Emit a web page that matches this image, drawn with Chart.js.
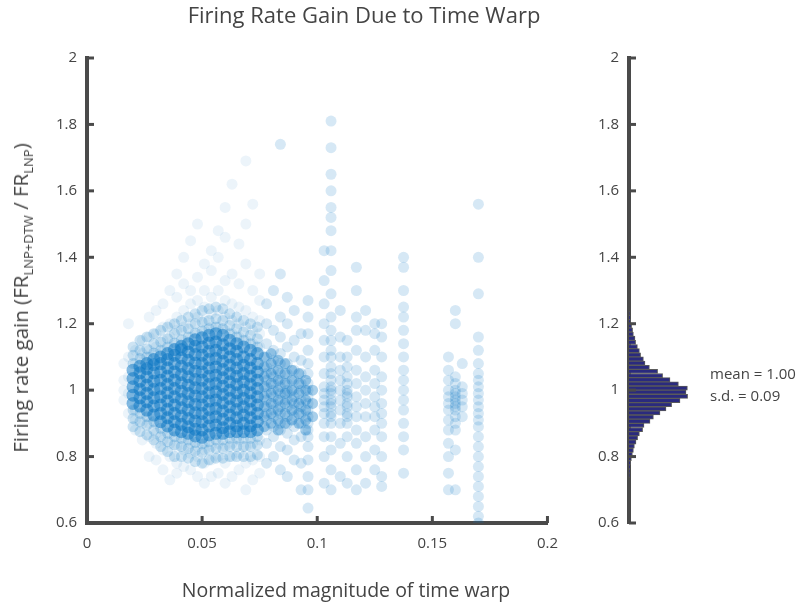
<!DOCTYPE html>
<html>
<head>
<meta charset="utf-8">
<script src="https://cdn.jsdelivr.net/npm/chart.js@4.4.1/dist/chart.umd.min.js"></script>
<style>
  body { margin: 0; background: #fff; font-family: 'Open Sans', sans-serif; color: #444; }
  #wrap { position: relative; width: 801px; height: 604px; overflow: hidden; }
  canvas { position: absolute; top: 0; }
  #scatter { left: 0; }
  #hist { left: 570px; }
  .lbl { position: absolute; white-space: nowrap; line-height: 22px; }
  #title { left: 0; width: 728px; top: 3px; text-align: center; font-size: 22px; }
  #xlabel { left: 0; width: 692px; top: 579px; text-align: center; font-size: 19.5px; }
  #ylabel { left: 20px; top: 298px; font-size: 20.5px; transform: translate(-50%, -50%) rotate(-90deg); }
  #ylabel sub { font-size: 13px; line-height: 0; }
  #stats { left: 710px; top: 362px; font-size: 15px; line-height: 22px; }
</style>
</head>
<body>
<div id="wrap">
  <canvas id="scatter" width="570" height="604"></canvas>
  <canvas id="hist" width="231" height="604"></canvas>
  <div class="lbl" id="title">Firing Rate Gain Due to Time Warp</div>
  <div class="lbl" id="xlabel">Normalized magnitude of time warp</div>
  <div class="lbl" id="ylabel">Firing rate gain (FR<sub>LNP+DTW</sub> / FR<sub>LNP</sub>)</div>
  <div class="lbl" id="stats">mean = 1.00<br>s.d. = 0.09</div>
</div>
<script>
'use strict';

// tick labels
let warpTicks = [0, 0.05, 0.1, 0.15, 0.2];
let gainTicks = [0.6, 0.8, 1, 1.2, 1.4, 1.6, 1.8, 2];

// dense cloud of neurons with small warps (one column of gains per warp value)
let coreWarp = [0.020, 0.023, 0.026, 0.029, 0.032, 0.035, 0.038, 0.041, 0.044, 0.047,
  0.050, 0.053, 0.056, 0.059, 0.062, 0.065, 0.068, 0.071, 0.074];
let coreGain = [
  [0.96, 0.985, 1.01, 1.035, 1.06],
  [0.952, 0.977, 1.002, 1.027, 1.052, 1.072],
  [0.94, 0.965, 0.99, 1.015, 1.04, 1.065, 1.08],
  [0.925, 0.952, 0.977, 1.002, 1.027, 1.052, 1.077, 1.092],
  [0.905, 0.93, 0.955, 0.98, 1.005, 1.03, 1.055, 1.08, 1.10],
  [0.892, 0.917, 0.942, 0.967, 0.992, 1.017, 1.042, 1.067, 1.092, 1.11],
  [0.88, 0.905, 0.93, 0.955, 0.98, 1.005, 1.03, 1.055, 1.08, 1.105, 1.122],
  [0.875, 0.897, 0.922, 0.947, 0.972, 0.997, 1.022, 1.047, 1.072, 1.097, 1.122, 1.132],
  [0.87, 0.89, 0.915, 0.94, 0.965, 0.99, 1.015, 1.04, 1.065, 1.09, 1.115, 1.14],
  [0.862, 0.882, 0.907, 0.932, 0.957, 0.982, 1.007, 1.032, 1.057, 1.082, 1.107, 1.132, 1.152],
  [0.858, 0.88, 0.905, 0.93, 0.955, 0.98, 1.005, 1.03, 1.055, 1.08, 1.105, 1.13, 1.158],
  [0.865, 0.892, 0.917, 0.942, 0.967, 0.992, 1.017, 1.042, 1.067, 1.092, 1.117, 1.142, 1.165],
  [0.87, 0.895, 0.92, 0.945, 0.97, 0.995, 1.02, 1.045, 1.07, 1.095, 1.12, 1.145, 1.17],
  [0.87, 0.887, 0.912, 0.937, 0.962, 0.987, 1.012, 1.037, 1.062, 1.087, 1.112, 1.137, 1.165],
  [0.875, 0.9, 0.925, 0.95, 0.975, 1.0, 1.025, 1.05, 1.075, 1.1, 1.125, 1.15],
  [0.875, 0.892, 0.917, 0.942, 0.967, 0.992, 1.017, 1.042, 1.067, 1.092, 1.117, 1.14],
  [0.875, 0.9, 0.925, 0.95, 0.975, 1.0, 1.025, 1.05, 1.075, 1.1, 1.13],
  [0.875, 0.892, 0.917, 0.942, 0.967, 0.992, 1.017, 1.042, 1.067, 1.092, 1.12],
  [0.88, 0.905, 0.93, 0.955, 0.98, 1.005, 1.03, 1.055, 1.08, 1.11]
];

// thinner band of neurons just outside the cloud (same warp columns)
let fringeGain = [
  [0.94, 0.915, 0.89, 1.08, 1.105, 1.13],
  [0.93, 0.905, 0.875, 1.095, 1.12, 1.15],
  [0.92, 0.895, 0.865, 1.10, 1.125, 1.16],
  [0.905, 0.88, 0.85, 1.112, 1.14, 1.17],
  [0.885, 0.86, 0.83, 1.12, 1.145, 1.18],
  [0.87, 0.845, 0.815, 1.13, 1.155, 1.19],
  [0.86, 0.835, 0.8, 1.142, 1.17, 1.2],
  [0.855, 0.83, 0.8, 1.152, 1.18, 1.21],
  [0.85, 0.825, 0.795, 1.16, 1.185, 1.22],
  [0.842, 0.817, 0.785, 1.172, 1.2, 1.23],
  [0.838, 0.812, 0.78, 1.178, 1.205, 1.24],
  [0.845, 0.82, 0.79, 1.185, 1.21, 1.245],
  [0.85, 0.825, 0.795, 1.19, 1.215, 1.25],
  [0.85, 0.825, 0.795, 1.185, 1.21, 1.245],
  [0.855, 0.83, 0.8, 1.17, 1.195, 1.23],
  [0.855, 0.83, 0.8, 1.16, 1.185, 1.22],
  [0.855, 0.83, 0.8, 1.15, 1.175, 1.21],
  [0.855, 0.83, 0.8, 1.14, 1.165, 1.2],
  [0.86, 0.835, 0.805, 1.13, 1.155, 1.19]
];

// sparse outliers around the cloud
let haloWarp = [0.016, 0.018, 0.021, 0.024, 0.027, 0.030, 0.033, 0.036, 0.039, 0.042,
  0.045, 0.048, 0.051, 0.054, 0.057, 0.060, 0.063, 0.066, 0.069, 0.072, 0.075];
let haloGain = [
  [0.97, 1.0, 1.03, 1.08],
  [0.93, 0.99, 1.04, 1.1, 1.2],
  [0.88, 0.91, 0.94, 1.08, 1.12],
  [0.85, 0.9, 0.93, 1.09, 1.11, 1.15],
  [0.8, 0.86, 0.9, 0.92, 1.1, 1.12, 1.16, 1.22],
  [0.79, 0.84, 0.87, 0.9, 1.11, 1.13, 1.17, 1.24],
  [0.76, 0.82, 0.85, 0.88, 1.12, 1.15, 1.19, 1.26],
  [0.73, 0.8, 0.84, 0.87, 1.13, 1.16, 1.2, 1.3],
  [0.75, 0.78, 0.83, 0.86, 1.14, 1.18, 1.22, 1.28, 1.35],
  [0.77, 0.82, 0.85, 1.15, 1.19, 1.24, 1.32, 1.4],
  [0.76, 0.81, 0.84, 1.16, 1.2, 1.26, 1.3, 1.45],
  [0.74, 0.8, 0.83, 1.17, 1.22, 1.27, 1.34, 1.5],
  [0.72, 0.78, 0.82, 0.84, 1.18, 1.21, 1.25, 1.3, 1.38],
  [0.74, 0.79, 0.83, 1.19, 1.23, 1.28, 1.36, 1.42],
  [0.75, 0.8, 0.84, 1.19, 1.24, 1.3, 1.4, 1.48],
  [0.72, 0.78, 0.83, 1.18, 1.22, 1.27, 1.33, 1.46, 1.55],
  [0.74, 0.8, 0.84, 1.17, 1.21, 1.26, 1.35, 1.62],
  [0.76, 0.81, 0.85, 1.16, 1.2, 1.25, 1.32, 1.44],
  [0.7, 0.78, 0.83, 1.15, 1.19, 1.24, 1.38, 1.5, 1.69],
  [0.73, 0.79, 0.84, 1.14, 1.18, 1.22, 1.3, 1.56],
  [0.75, 0.8, 0.85, 1.13, 1.17, 1.21, 1.27, 1.35]
];

// medium density band where the cloud thins out
let midWarp = [0.077, 0.080, 0.083, 0.086, 0.089, 0.092, 0.095, 0.098];
let midGain = [
  [0.89, 0.92, 0.95, 0.98, 1.01, 1.04, 1.07, 1.1],
  [0.9, 0.93, 0.96, 0.99, 1.02, 1.05, 1.08, 1.11],
  [0.88, 0.91, 0.94, 0.97, 1.0, 1.03, 1.06, 1.09],
  [0.9, 0.93, 0.96, 0.99, 1.02, 1.05, 1.08],
  [0.91, 0.94, 0.97, 1.0, 1.03, 1.06],
  [0.9, 0.93, 0.96, 0.99, 1.02, 1.05],
  [0.88, 0.91, 0.94, 0.97, 1.0, 1.03],
  [0.92, 0.96, 1.0]
];

// separate columns of neurons with larger warps
let stripWarp = [0.078, 0.081, 0.084, 0.087, 0.090, 0.093, 0.096, 0.103, 0.106, 0.110,
  0.113, 0.117, 0.121, 0.125, 0.128, 0.1375, 0.157, 0.160, 0.163, 0.170];
let stripGain = [
  [0.78, 0.84, 0.88, 0.91, 0.93, 0.95, 0.97, 0.99, 1.01, 1.03, 1.05, 1.07, 1.1, 1.14, 1.2, 1.26],
  [0.8, 0.86, 0.89, 0.92, 0.94, 0.96, 0.98, 1.0, 1.02, 1.04, 1.06, 1.09, 1.12, 1.18, 1.3],
  [0.76, 0.83, 0.88, 0.9, 0.93, 0.95, 0.97, 0.99, 1.01, 1.03, 1.05, 1.08, 1.11, 1.16, 1.22, 1.35, 1.74],
  [0.74, 0.82, 0.87, 0.9, 0.92, 0.95, 0.97, 0.99, 1.0, 1.02, 1.05, 1.08, 1.13, 1.2, 1.28],
  [0.79, 0.85, 0.89, 0.92, 0.94, 0.96, 0.98, 1.0, 1.03, 1.06, 1.1, 1.15, 1.24],
  [0.7, 0.78, 0.86, 0.9, 0.93, 0.95, 0.97, 1.0, 1.02, 1.05, 1.09, 1.17],
  [0.645, 0.7, 0.74, 0.79, 0.83, 0.86, 0.88, 0.9, 0.92, 0.94, 0.96, 0.98, 1.0, 1.02, 1.05, 1.08, 1.12, 1.17, 1.22, 1.27],
  [0.72, 0.8, 0.86, 0.9, 0.93, 0.95, 0.97, 0.99, 1.01, 1.05, 1.1, 1.15, 1.2, 1.26, 1.33, 1.42],
  [0.7, 0.76, 0.82, 0.86, 0.9, 0.92, 0.93, 0.95, 0.96, 0.97, 0.99, 1.0, 1.01, 1.03, 1.05, 1.07, 1.1, 1.12, 1.15, 1.18, 1.22,
    1.29, 1.36, 1.42, 1.48, 1.52, 1.55, 1.6, 1.65, 1.73, 1.81],
  [0.74, 0.84, 0.9, 0.94, 0.97, 1.0, 1.03, 1.06, 1.1, 1.16, 1.24],
  [0.72, 0.8, 0.86, 0.9, 0.92, 0.93, 0.95, 0.96, 0.98, 0.99, 1.0, 1.02, 1.04, 1.07, 1.1, 1.15],
  [0.7, 0.76, 0.84, 0.88, 0.92, 0.95, 0.98, 1.02, 1.06, 1.12, 1.18, 1.22, 1.3, 1.37],
  [0.72, 0.8, 0.86, 0.92, 0.96, 1.0, 1.04, 1.1, 1.18, 1.24],
  [0.76, 0.82, 0.88, 0.92, 0.95, 0.98, 1.02, 1.06, 1.12, 1.17, 1.2],
  [0.71, 0.74, 0.8, 0.86, 0.9, 0.93, 0.96, 1.0, 1.04, 1.1, 1.16, 1.2],
  [0.75, 0.82, 0.86, 0.9, 0.94, 0.97, 1.0, 1.03, 1.06, 1.1, 1.14, 1.18, 1.22, 1.25, 1.3, 1.37, 1.4],
  [0.7, 0.75, 0.8, 0.84, 0.88, 0.91, 0.94, 0.96, 0.98, 1.0, 1.03, 1.06, 1.1],
  [0.7, 0.82, 0.88, 0.9, 0.92, 0.94, 0.95, 0.96, 0.97, 0.98, 0.99, 1.0, 1.02, 1.04, 1.2, 1.24],
  [0.92, 0.95, 0.97, 0.99, 1.01, 1.08],
  [0.6, 0.62, 0.65, 0.68, 0.71, 0.74, 0.77, 0.8, 0.83, 0.86, 0.89, 0.91, 0.93, 0.95, 0.97, 0.99,
    1.01, 1.03, 1.05, 1.08, 1.12, 1.16, 1.29, 1.4, 1.56]
];

// marginal histogram of the gains (bin centre, count)
let histGain = [1.2313, 1.2188, 1.2063, 1.1938, 1.1813, 1.1688, 1.1563, 1.1438, 1.1313, 1.1188,
  1.1063, 1.0938, 1.0813, 1.0688, 1.0563, 1.0438, 1.0313, 1.0188, 1.0063, 0.9938,
  0.9813, 0.9688, 0.9563, 0.9438, 0.9313, 0.9188, 0.9063, 0.8938, 0.8813, 0.8688,
  0.8563, 0.8438, 0.8313, 0.8188, 0.8063, 0.7938, 0.7813, 0.7688, 0.7563, 0.7438];
let histCount = [2, 5, 8, 13, 18, 22, 30, 33, 42, 52,
  58, 72, 80, 102, 143, 168, 205, 247, 292, 285,
  293, 255, 213, 185, 155, 122, 105, 75, 68, 52,
  43, 35, 27, 22, 17, 12, 8, 5, 3, 2];

let axisColor = '#4a4a4a';
let textColor = '#444';

function toPoints(warps, gains) {
  let pts = [];
  for (let i = 0; i < warps.length; i++) {
    for (let j = 0; j < gains[i].length; j++) {
      pts.push({ x: warps[i], y: gains[i][j] });
    }
  }
  return pts;
}

function dotSet(data, alpha, radius) {
  return {
    data: data,
    backgroundColor: 'rgba(10, 118, 195, ' + alpha + ')',
    borderWidth: 0,
    pointRadius: radius,
    pointHoverRadius: radius
  };
}

// matlab style ticks pointing into the plot
let inwardTicks = {
  id: 'inwardTicks',
  afterDraw(chart) {
    let ctx = chart.ctx;
    ctx.save();
    ctx.strokeStyle = axisColor;
    ctx.lineWidth = 3;
    Object.values(chart.scales).forEach(function (s) {
      if (!s.options.display) return;
      s.ticks.forEach(function (t) {
        let p = s.getPixelForValue(t.value);
        ctx.beginPath();
        if (s.isHorizontal()) {
          ctx.moveTo(p, s.top);
          ctx.lineTo(p, s.top - 7);
        } else {
          ctx.moveTo(s.right, p);
          ctx.lineTo(s.right + 7, p);
        }
        ctx.stroke();
      });
    });
    ctx.restore();
  }
};

function gainAxis(width) {
  return {
    type: 'linear',
    min: 0.6,
    max: 2,
    offset: false,
    afterBuildTicks: function (s) { s.ticks = gainTicks.map(v => ({ value: v })); },
    afterFit: function (s) { s.width = width; },
    grid: { drawOnChartArea: false, drawTicks: false, offset: false },
    border: { display: true, color: axisColor, width: 4 },
    ticks: {
      padding: 10,
      color: textColor,
      font: { family: 'Open Sans', size: 15 },
      callback: v => String(v)
    }
  };
}

Chart.defaults.animation = false;

new Chart(document.getElementById('scatter'), {
  type: 'scatter',
  data: {
    datasets: [
      dotSet(toPoints(haloWarp, haloGain), 0.08, 5.5),
      dotSet(toPoints(coreWarp, fringeGain), 0.2, 5.5),
      dotSet(toPoints(stripWarp, stripGain), 0.17, 5.5),
      dotSet(toPoints(midWarp, midGain), 0.35, 5.5),
      dotSet(toPoints(coreWarp, coreGain), 0.5, 6.5)
    ]
  },
  options: {
    responsive: false,
    devicePixelRatio: 1,
    layout: { autoPadding: false, padding: { top: 58, right: 18, left: 0, bottom: 0 } },
    plugins: { legend: { display: false }, tooltip: { enabled: false } },
    scales: {
      x: {
        type: 'linear',
        min: 0,
        max: 0.2,
        afterBuildTicks: function (s) { s.ticks = warpTicks.map(v => ({ value: v })); },
        afterFit: function (s) { s.height = 81; },
        grid: { drawOnChartArea: false, drawTicks: false },
        border: { display: true, color: axisColor, width: 4 },
        ticks: {
          padding: 12,
          maxRotation: 0,
          color: textColor,
          font: { family: 'Open Sans', size: 15 },
          callback: v => String(v)
        }
      },
      y: gainAxis(87)
    }
  },
  plugins: [inwardTicks]
});

new Chart(document.getElementById('hist'), {
  type: 'bar',
  data: {
    datasets: [{
      data: histGain.map((g, i) => ({ x: histCount[i], y: g })),
      backgroundColor: '#2a2a7e',
      borderColor: '#5a5a5a',
      borderWidth: 1,
      barPercentage: 1,
      categoryPercentage: 1
    }]
  },
  options: {
    indexAxis: 'y',
    responsive: false,
    devicePixelRatio: 1,
    layout: { autoPadding: false, padding: { top: 58, right: 101, left: 0, bottom: 81 } },
    plugins: { legend: { display: false }, tooltip: { enabled: false } },
    scales: {
      x: { type: 'linear', min: 0, max: 355, display: false },
      y: gainAxis(59)
    }
  },
  plugins: [inwardTicks]
});
</script>
</body>
</html>
